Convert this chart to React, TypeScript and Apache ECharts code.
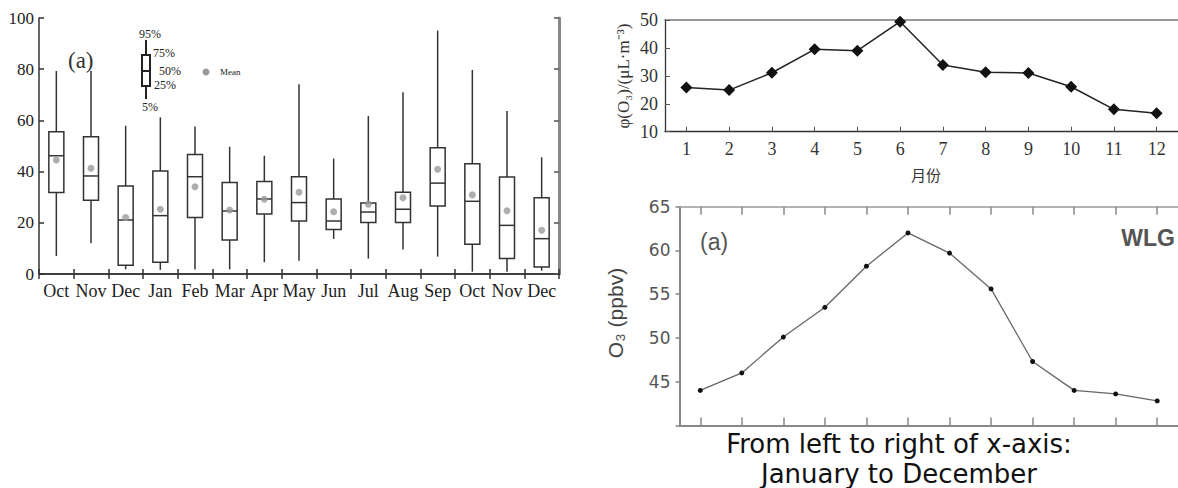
import React, { useEffect, useRef } from 'react';
import * as echarts from 'echarts';

// ---------- Left panel: box plot (percentiles) ----------
const boxMonths = ['Oct', 'Nov', 'Dec', 'Jan', 'Feb', 'Mar', 'Apr', 'May', 'Jun', 'Jul', 'Aug', 'Sep', 'Oct', 'Nov', 'Dec'];
const p5 = [7.0, 12.0, 1.8, 1.6, 1.8, 1.8, 4.6, 5.2, 13.7, 6.0, 9.6, 6.8, 0.9, 0.9, 1.3];
const p25 = [31.8, 28.8, 3.4, 4.6, 22.1, 13.3, 23.4, 20.7, 17.4, 20.1, 20.1, 26.6, 11.6, 6.1, 2.7];
const p50 = [46.2, 38.3, 21.1, 22.8, 38.0, 24.6, 29.3, 27.9, 20.7, 24.2, 25.3, 35.5, 28.4, 19.0, 13.8];
const p75 = [55.6, 53.6, 34.4, 40.2, 46.7, 35.7, 36.1, 38.0, 29.3, 27.7, 31.9, 49.3, 43.1, 37.9, 29.8];
const p95 = [79.3, 79.3, 57.9, 61.2, 57.6, 49.7, 46.2, 74.1, 45.1, 61.7, 71.0, 95.1, 79.7, 63.7, 45.6];
const means = [44.5, 41.3, 22.1, 25.3, 34.1, 25.0, 29.2, 31.9, 24.3, 27.3, 29.8, 40.9, 30.9, 24.7, 17.1];
const boxYTicks = { min: 0, max: 100, interval: 20 };

// ---------- Top-right panel ----------
const topMonths = ['1', '2', '3', '4', '5', '6', '7', '8', '9', '10', '11', '12'];
const topValues = [25.8, 24.9, 31.1, 39.5, 39.0, 49.4, 33.9, 31.3, 31.0, 26.1, 18.0, 16.6];
const topYTicks = { min: 10, max: 50, interval: 10 };

// ---------- Bottom-right panel ----------
const wlgMonths = ['Jan', 'Feb', 'Mar', 'Apr', 'May', 'Jun', 'Jul', 'Aug', 'Sep', 'Oct', 'Nov', 'Dec'];
const wlgValues = [44.0, 46.0, 50.1, 53.5, 58.2, 62.0, 59.7, 55.6, 47.3, 44.0, 43.6, 42.8];
const wlgYTicks = { min: 40, max: 65, interval: 5 };

const SERIF = 'Liberation Serif';
const SANS = 'DejaVu Sans';

export default function App() {
  const ref = useRef<HTMLDivElement>(null);

  useEffect(() => {
    if (!ref.current) return;
    const chart = echarts.init(ref.current, null, { renderer: 'svg' });

    const boxData = boxMonths.map((_, i) => [i, p5[i], p25[i], p50[i], p75[i], p95[i]]);
    const meanData = means.map((m, i) => [i, m]);
    const boxStroke = '#333';

    const renderBox = (params: any, api: any) => {
      const x = api.value(0);
      const lo = api.coord([x, api.value(1)]);
      const q1 = api.coord([x, api.value(2)]);
      const md = api.coord([x, api.value(3)]);
      const q3 = api.coord([x, api.value(4)]);
      const hi = api.coord([x, api.value(5)]);
      const half = 7.5;
      const cx = md[0];
      const st = { stroke: boxStroke, lineWidth: 1.5, fill: null };
      return {
        type: 'group',
        children: [
          { type: 'line', shape: { x1: cx, y1: hi[1], x2: cx, y2: q3[1] }, style: st },
          { type: 'line', shape: { x1: cx, y1: q1[1], x2: cx, y2: lo[1] }, style: st },
          { type: 'rect', shape: { x: cx - half, y: q3[1], width: half * 2, height: q1[1] - q3[1] }, style: { stroke: boxStroke, lineWidth: 1.5, fill: '#fff' } },
          { type: 'line', shape: { x1: cx - half, y1: md[1], x2: cx + half, y2: md[1] }, style: st },
        ],
      };
    };

    const darkLine = { lineStyle: { color: '#333', width: 1.5 } };
    const legendText = (text: string, x: number, y: number, size = 12) => ({
      type: 'text', x, y,
      style: { text, fontFamily: SERIF, fontSize: size, fill: '#222', verticalAlign: 'middle' },
    });

    const option: any = {
      animation: false,
      backgroundColor: '#fff',
      grid: [
        { left: 39, top: 18, width: 520, height: 256 },
        { left: 665, top: 20, width: 521.4, height: 111.7 },
        { left: 679.5, top: 206.7, width: 508.3, height: 218.7 },
      ],
      xAxis: [
        {
          gridIndex: 0, type: 'category', data: boxMonths, boundaryGap: true,
          axisLine: { show: true, ...darkLine },
          axisTick: { show: true, inside: true, length: 5, ...darkLine },
          axisLabel: { interval: 0, fontFamily: SERIF, fontSize: 18, color: '#222', margin: 8 },
          splitLine: { show: false },
        },
        {
          gridIndex: 0, type: 'category', data: boxMonths, position: 'top', boundaryGap: true,
          axisLine: { show: true, ...darkLine },
          axisTick: { show: true, inside: true, length: 5, ...darkLine },
          axisLabel: { show: false },
          splitLine: { show: false },
        },
        {
          gridIndex: 1, type: 'category', data: topMonths, boundaryGap: true,
          axisLine: { show: true, lineStyle: { color: '#333', width: 1.3 } },
          axisTick: { show: true, inside: true, alignWithLabel: true, length: 5, lineStyle: { color: '#555', width: 1 } },
          axisLabel: { fontFamily: SERIF, fontSize: 18, color: '#333', margin: 8 },
          splitLine: { show: false },
        },
        {
          gridIndex: 1, type: 'category', data: topMonths, position: 'top', boundaryGap: true,
          axisLine: { show: true, lineStyle: { color: '#777', width: 1.5 } },
          axisTick: { show: false }, axisLabel: { show: false }, splitLine: { show: false },
        },
        {
          gridIndex: 2, type: 'category', data: wlgMonths, boundaryGap: true,
          axisLine: { show: true, lineStyle: { color: '#888', width: 2 } },
          axisTick: { show: true, inside: true, alignWithLabel: true, length: 8, lineStyle: { color: '#888', width: 1.5 } },
          axisLabel: { show: false }, splitLine: { show: false },
        },
        {
          gridIndex: 2, type: 'category', data: wlgMonths, position: 'top', boundaryGap: true,
          axisLine: { show: true, lineStyle: { color: '#999', width: 1.5 } },
          axisTick: { show: true, inside: true, alignWithLabel: true, length: 8, lineStyle: { color: '#888', width: 1.5 } },
          axisLabel: { show: false }, splitLine: { show: false },
        },
      ],
      yAxis: [
        {
          gridIndex: 0, type: 'value', ...boxYTicks,
          axisLine: { show: true, ...darkLine },
          axisTick: { show: true, inside: true, length: 5, ...darkLine },
          axisLabel: { fontFamily: SERIF, fontSize: 17, color: '#222', margin: 5 },
          splitLine: { show: false },
        },
        {
          gridIndex: 0, type: 'value', position: 'right', ...boxYTicks,
          axisLine: { show: true, lineStyle: { color: '#888', width: 3 } },
          axisTick: { show: true, inside: true, length: 5, lineStyle: { color: '#555', width: 1.5 } },
          axisLabel: { show: false }, splitLine: { show: false },
        },
        {
          gridIndex: 1, type: 'value', ...topYTicks,
          axisLine: { show: true, lineStyle: { color: '#333', width: 1.3 } },
          axisTick: { show: true, inside: true, length: 5, lineStyle: { color: '#555', width: 1 } },
          axisLabel: { fontFamily: SERIF, fontSize: 18, color: '#333', margin: 7 },
          splitLine: { show: false },
        },
        {
          gridIndex: 2, type: 'value', ...wlgYTicks,
          axisLine: { show: true, lineStyle: { color: '#888', width: 2 } },
          axisTick: { show: true, inside: false, length: 4, lineStyle: { color: '#888', width: 1.5 } },
          axisLabel: {
            fontFamily: SANS, fontSize: 17, color: '#555', margin: 9,
            formatter: (v: number) => (v === wlgYTicks.min ? '' : String(v)),
          },
          splitLine: { show: false },
        },
      ],
      series: [
        {
          type: 'custom', xAxisIndex: 0, yAxisIndex: 0, data: boxData,
          encode: { x: 0, y: [1, 2, 3, 4, 5] }, renderItem: renderBox, z: 2, clip: false,
        },
        {
          type: 'scatter', xAxisIndex: 0, yAxisIndex: 0, data: meanData,
          symbol: 'circle', symbolSize: 7, itemStyle: { color: '#9a9a9a' }, z: 3,
        },
        {
          type: 'line', xAxisIndex: 2, yAxisIndex: 2, data: topValues,
          symbol: 'diamond', symbolSize: 12, itemStyle: { color: '#111' },
          lineStyle: { color: '#222', width: 1.5 }, z: 3,
        },
        {
          type: 'line', xAxisIndex: 4, yAxisIndex: 3, data: wlgValues,
          symbol: 'circle', symbolSize: 5, itemStyle: { color: '#111' },
          lineStyle: { color: '#666', width: 1.3 }, z: 3,
        },
      ],
      graphic: [
        // legend inset of the box plot
        { type: 'line', shape: { x1: 146, y1: 40, x2: 146, y2: 99 }, style: { stroke: '#222', lineWidth: 2 } },
        { type: 'rect', shape: { x: 142, y: 55, width: 8, height: 31 }, style: { fill: '#fff', stroke: '#222', lineWidth: 2 } },
        { type: 'line', shape: { x1: 142, y1: 71, x2: 150, y2: 71 }, style: { stroke: '#222', lineWidth: 2 } },
        legendText('95%', 139, 34),
        legendText('75%', 153, 53),
        legendText('50%', 159, 71),
        legendText('25%', 154, 85),
        legendText('5%', 142, 107),
        { type: 'circle', shape: { cx: 206, cy: 72, r: 3.5 }, style: { fill: '#9a9a9a' } },
        legendText('Mean', 220, 72, 9),
        { type: 'text', x: 68, y: 60, style: { text: '(a)', fontFamily: SERIF, fontSize: 23, fill: '#333', verticalAlign: 'middle' } },
        // top-right titles
        { type: 'text', x: 623, y: 76, rotation: Math.PI / 2, style: { text: 'φ(O₃)/(μL·m⁻³)', fontFamily: SERIF, fontSize: 17, fill: '#333', align: 'center', verticalAlign: 'middle' } },
        { type: 'text', x: 926, y: 174, style: { text: '月份', fontFamily: 'Noto Sans CJK SC', fontSize: 15, fill: '#333', align: 'center', verticalAlign: 'middle' } },
        // bottom-right titles
        { type: 'text', x: 615, y: 313, rotation: Math.PI / 2, style: { text: 'O₃ (ppbv)', fontFamily: 'Liberation Sans', fontSize: 21, fill: '#444', align: 'center', verticalAlign: 'middle' } },
        { type: 'text', x: 700, y: 242, style: { text: '(a)', fontFamily: 'Liberation Sans', fontSize: 23, fill: '#555', verticalAlign: 'middle' } },
        { type: 'text', x: 1175, y: 238, style: { text: 'WLG', fontFamily: 'Liberation Sans', fontSize: 23, fontWeight: 'bold', fill: '#555', align: 'right', verticalAlign: 'middle' } },
        // caption
        { type: 'text', x: 899, y: 444, style: { text: 'From left to right of x-axis:', fontFamily: SANS, fontSize: 26, fill: '#111', align: 'center', verticalAlign: 'middle' } },
        { type: 'text', x: 899, y: 474, style: { text: 'January to December', fontFamily: SANS, fontSize: 26, fill: '#111', align: 'center', verticalAlign: 'middle' } },
      ],
    };

    chart.setOption(option);
    return () => chart.dispose();
  }, []);

  return (
    <div
      ref={ref}
      style={{ position: 'absolute', left: 0, top: 0, width: 1178, height: 488, background: '#fff' }}
    />
  );
}
